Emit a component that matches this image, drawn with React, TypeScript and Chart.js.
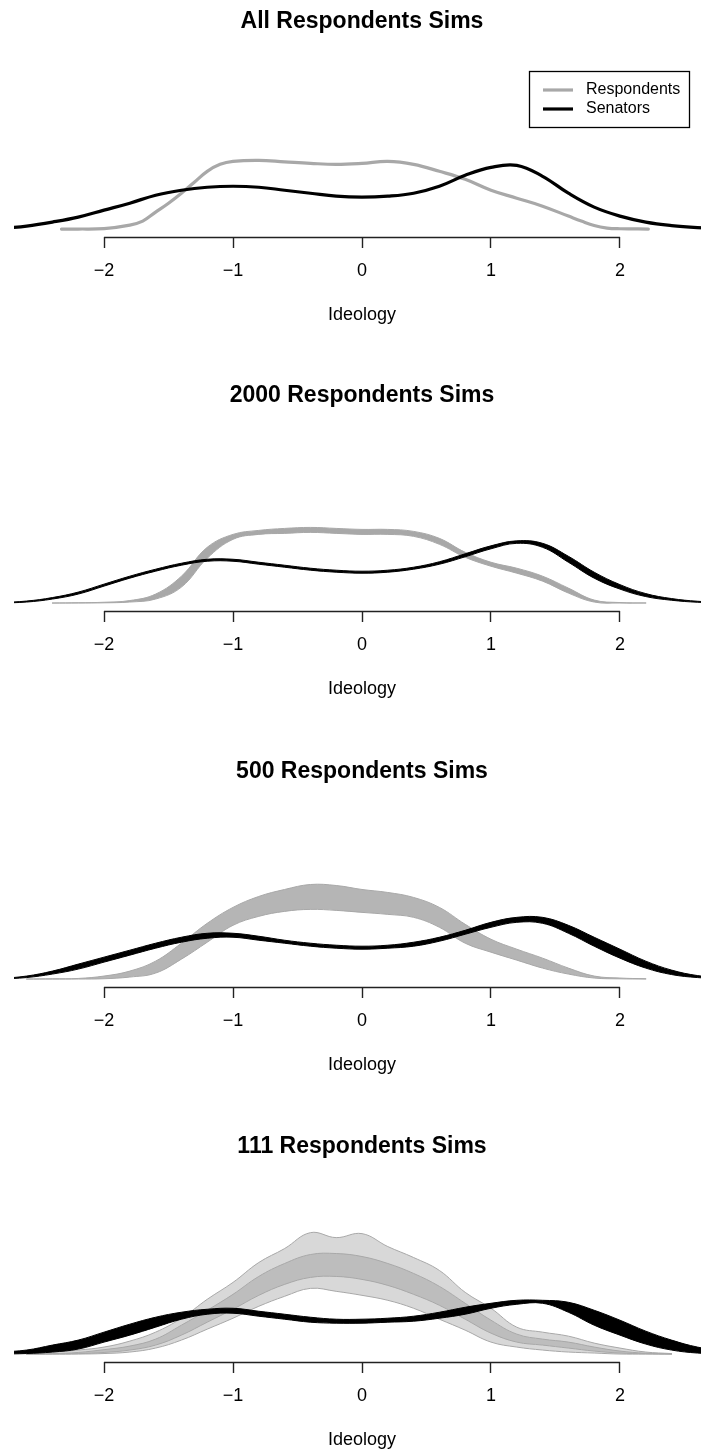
import { useEffect, useRef } from 'react';
import { Chart, registerables } from 'chart.js';

Chart.register(...registerables);

// ---------------- data (densities) ----------------
const X_TICKS = [-2, -1, 0, 1, 2];
const X_TICK_LABELS = ['\u22122', '\u22121', '0', '1', '2'];

const X_SEN = [-2.8, -2.6, -2.4, -2.2, -2.0, -1.8, -1.6, -1.4, -1.2, -1.0, -0.8, -0.6, -0.4, -0.2, 0, 0.2, 0.4, 0.6, 0.8, 1.0, 1.2, 1.4, 1.6, 1.8, 2.0, 2.2, 2.4, 2.6, 2.8];
const X_RESP_ALL = [-2.33, -2.2, -2.0, -1.8, -1.7, -1.6, -1.5, -1.4, -1.3, -1.2, -1.1, -1.0, -0.8, -0.6, -0.4, -0.2, 0, 0.2, 0.4, 0.6, 0.8, 1.0, 1.2, 1.4, 1.6, 1.7, 1.8, 1.9, 2.0, 2.22];
const X_RESP = [-2.6, -2.4, -2.2, -2.0, -1.8, -1.6, -1.4, -1.2, -1.0, -0.8, -0.6, -0.4, -0.2, 0, 0.2, 0.4, 0.6, 0.8, 1.0, 1.2, 1.4, 1.6, 1.8, 2.0, 2.2, 2.4];

// Panel 1: All respondents
const SEN_ALL = [0.0025, 0.015, 0.035, 0.06, 0.095, 0.13, 0.17, 0.195, 0.21, 0.215, 0.21, 0.195, 0.18, 0.165, 0.16, 0.165, 0.18, 0.215, 0.27, 0.31, 0.32, 0.265, 0.18, 0.11, 0.065, 0.035, 0.0175, 0.0075, 0.0025];
const RESP_ALL = [0, 0, 0.0025, 0.02, 0.04, 0.085, 0.13, 0.18, 0.235, 0.29, 0.325, 0.34, 0.345, 0.3375, 0.33, 0.325, 0.33, 0.34, 0.325, 0.29, 0.25, 0.195, 0.155, 0.115, 0.065, 0.04, 0.0175, 0.005, 0.0015, 0];

// Panel 2: 2000 respondents sims (envelopes of the simulated curves)
const SEN_2000_LO = [0, 0.005, 0.02, 0.045, 0.085, 0.125, 0.16, 0.19, 0.21, 0.21, 0.195, 0.18, 0.165, 0.155, 0.15, 0.155, 0.17, 0.195, 0.2325, 0.2725, 0.3, 0.28, 0.205, 0.125, 0.07, 0.0325, 0.014, 0.004, 0.0005];
const SEN_2000_HI = [0.0025, 0.01, 0.0275, 0.055, 0.095, 0.135, 0.17, 0.2, 0.22, 0.22, 0.205, 0.19, 0.175, 0.165, 0.16, 0.165, 0.18, 0.2075, 0.2475, 0.2875, 0.3125, 0.3, 0.235, 0.155, 0.0925, 0.0475, 0.0225, 0.009, 0.0025];
const RESP_2000_LO = [null, 0, 0, 0.001, 0.005, 0.02, 0.08, 0.225, 0.32, 0.345, 0.35, 0.355, 0.35, 0.345, 0.345, 0.335, 0.295, 0.23, 0.185, 0.15, 0.11, 0.05, 0.005, 0, 0, null];
const RESP_2000_HI = [null, 0, 0.0015, 0.004, 0.0125, 0.045, 0.135, 0.28, 0.345, 0.365, 0.375, 0.38, 0.375, 0.37, 0.37, 0.36, 0.325, 0.255, 0.205, 0.175, 0.135, 0.075, 0.015, 0.0025, 0.0005, null];

// Panel 3: 500 respondents sims
const SEN_500_LO = [0, 0.0075, 0.025, 0.05, 0.085, 0.12, 0.155, 0.185, 0.205, 0.21, 0.195, 0.18, 0.165, 0.155, 0.15, 0.155, 0.165, 0.19, 0.225, 0.26, 0.285, 0.28, 0.23, 0.165, 0.105, 0.055, 0.0225, 0.0075, 0.0015];
const SEN_500_HI = [0.0025, 0.015, 0.04, 0.075, 0.11, 0.145, 0.18, 0.21, 0.23, 0.23, 0.215, 0.195, 0.18, 0.17, 0.165, 0.17, 0.185, 0.21, 0.245, 0.285, 0.31, 0.31, 0.27, 0.21, 0.15, 0.09, 0.045, 0.0175, 0.005];
const RESP_500_LO = [0, 0, 0, 0.0015, 0.01, 0.03, 0.1, 0.185, 0.27, 0.315, 0.34, 0.35, 0.345, 0.335, 0.325, 0.31, 0.26, 0.18, 0.135, 0.095, 0.055, 0.025, 0.005, 0.001, 0, null];
const RESP_500_HI = [0, 0.001, 0.003, 0.015, 0.04, 0.09, 0.18, 0.28, 0.36, 0.415, 0.45, 0.475, 0.47, 0.45, 0.435, 0.41, 0.36, 0.275, 0.2, 0.15, 0.105, 0.055, 0.015, 0.005, 0.0015, null];

// Panel 4: 111 respondents sims
const SEN_111_LO = [0, 0.0025, 0.01, 0.025, 0.06, 0.095, 0.135, 0.175, 0.2, 0.205, 0.19, 0.175, 0.16, 0.155, 0.155, 0.16, 0.165, 0.18, 0.2, 0.23, 0.25, 0.255, 0.21, 0.145, 0.095, 0.05, 0.02, 0.005, 0];
const SEN_111_HI = [0.01, 0.02, 0.045, 0.07, 0.11, 0.15, 0.185, 0.21, 0.225, 0.23, 0.215, 0.2, 0.185, 0.175, 0.175, 0.18, 0.19, 0.21, 0.235, 0.255, 0.27, 0.27, 0.26, 0.22, 0.17, 0.115, 0.07, 0.035, 0.015];
const RESP_111_LO = [0, 0, 0, 0.0025, 0.01, 0.03, 0.07, 0.125, 0.18, 0.24, 0.29, 0.33, 0.315, 0.295, 0.27, 0.23, 0.175, 0.12, 0.06, 0.035, 0.02, 0.01, 0.005, 0, 0, 0];
const RESP_111_CORE_LO = [0, 0, 0.002, 0.008, 0.02, 0.045, 0.095, 0.16, 0.225, 0.295, 0.35, 0.385, 0.39, 0.375, 0.345, 0.3, 0.245, 0.175, 0.105, 0.06, 0.045, 0.03, 0.015, 0.005, 0.001, 0];
const RESP_111_CORE_HI = [0, 0.002, 0.008, 0.022, 0.04, 0.075, 0.145, 0.22, 0.3, 0.39, 0.455, 0.5, 0.505, 0.49, 0.455, 0.405, 0.34, 0.255, 0.17, 0.1, 0.075, 0.06, 0.035, 0.015, 0.004, 0];
const RESP_111_HI = [0.005, 0.01, 0.02, 0.035, 0.065, 0.11, 0.18, 0.275, 0.36, 0.46, 0.53, 0.61, 0.585, 0.605, 0.54, 0.485, 0.42, 0.31, 0.23, 0.135, 0.11, 0.09, 0.055, 0.03, 0.01, 0.0025];

const TITLES = ['All Respondents Sims', '2000 Respondents Sims', '500 Respondents Sims', '111 Respondents Sims'];
const SERIES_NAMES = ['Respondents', 'Senators'];

// ---------------- styling / layout ----------------
const FONT = "'Liberation Sans', Arial, Helvetica, sans-serif";
const GRAY = '#a8a8a8';
const BLACK = '#000000';
const CANVAS_W = 710;
const CANVAS_H = 350;
const PANEL_TOPS = [0, 374, 750, 1125];
const X_MIN = -2.698;
const X_MAX = 2.698;
const Y_MIN = -0.04;
const Y_MAX = 0.972;

type Pt = { x: number; y: number };
function pts(xs: number[], ys: (number | null)[]): Pt[] {
  const out: Pt[] = [];
  xs.forEach((x, i) => {
    const y = ys[i];
    if (y !== null && y !== undefined) out.push({ x, y });
  });
  return out;
}

const lineBase = {
  pointRadius: 0,
  pointHoverRadius: 0,
  tension: 0.4,
  borderCapStyle: 'round' as const,
  borderJoinStyle: 'round' as const,
};

function band(label: string, xs: number[], lo: (number | null)[], hi: (number | null)[], color: string, fillColor: string, orderBase: number) {
  return [
    { ...lineBase, label, data: pts(xs, lo), borderColor: color, borderWidth: 1, fill: false, order: orderBase + 1 },
    { ...lineBase, label, data: pts(xs, hi), borderColor: color, borderWidth: 1, fill: '-1', backgroundColor: fillColor, order: orderBase },
  ];
}

function panelDatasets(i: number): any[] {
  if (i === 0) {
    return [
      { ...lineBase, label: SERIES_NAMES[0], data: pts(X_RESP_ALL, RESP_ALL), borderColor: GRAY, borderWidth: 3.2, fill: false, order: 2 },
      { ...lineBase, label: SERIES_NAMES[1], data: pts(X_SEN, SEN_ALL), borderColor: BLACK, borderWidth: 3.2, fill: false, order: 1 },
    ];
  }
  if (i === 1) {
    return [
      ...band(SERIES_NAMES[0], X_RESP, RESP_2000_LO, RESP_2000_HI, GRAY, GRAY, 5),
      ...band(SERIES_NAMES[1], X_SEN, SEN_2000_LO, SEN_2000_HI, BLACK, BLACK, 1),
    ];
  }
  if (i === 2) {
    return [
      ...band(SERIES_NAMES[0], X_RESP, RESP_500_LO, RESP_500_HI, GRAY, 'rgba(168,168,168,0.85)', 5),
      ...band(SERIES_NAMES[1], X_SEN, SEN_500_LO, SEN_500_HI, BLACK, BLACK, 1),
    ];
  }
  return [
    ...band(SERIES_NAMES[0], X_RESP, RESP_111_LO, RESP_111_HI, GRAY, 'rgba(168,168,168,0.45)', 7),
    ...band(SERIES_NAMES[0], X_RESP, RESP_111_CORE_LO, RESP_111_CORE_HI, GRAY, 'rgba(168,168,168,0.55)', 4),
    ...band(SERIES_NAMES[1], X_SEN, SEN_111_LO, SEN_111_HI, BLACK, BLACK, 1),
  ];
}

// R-style axis line spanning only the tick range
const axisLinePlugin = {
  id: 'axisLine',
  afterDraw(chart: any) {
    const xs = chart.scales.x;
    const y = Math.round(chart.chartArea.bottom) + 0.5;
    const ctx = chart.ctx;
    ctx.save();
    ctx.strokeStyle = '#222';
    ctx.lineWidth = 1.4;
    ctx.beginPath();
    ctx.moveTo(xs.getPixelForValue(X_TICKS[0]), y);
    ctx.lineTo(xs.getPixelForValue(X_TICKS[X_TICKS.length - 1]), y);
    ctx.stroke();
    ctx.restore();
  },
};

// Boxed legend (R style) for the first panel
const boxedLegendPlugin = {
  id: 'boxedLegend',
  afterDraw(chart: any, _args: any, opts: any) {
    if (!opts || !opts.show) return;
    const ctx = chart.ctx;
    const { left, top, width, height, line0, line1, textX, rows } = opts;
    ctx.save();
    ctx.strokeStyle = '#000';
    ctx.lineWidth = 1.3;
    ctx.strokeRect(left + 0.5, top + 0.5, width, height);
    const items = chart.data.datasets;
    items.forEach((ds: any, k: number) => {
      const y = rows[k];
      ctx.strokeStyle = ds.borderColor;
      ctx.lineWidth = 3.2;
      ctx.lineCap = 'butt';
      ctx.beginPath();
      ctx.moveTo(line0, y);
      ctx.lineTo(line1, y);
      ctx.stroke();
      ctx.fillStyle = '#000';
      ctx.font = `16px ${FONT}`;
      ctx.textBaseline = 'middle';
      ctx.textAlign = 'left';
      ctx.fillText(ds.label, textX, y);
    });
    ctx.restore();
  },
};

function Panel({ index, top }: { index: number; top: number }) {
  const ref = useRef<HTMLCanvasElement | null>(null);
  useEffect(() => {
    if (!ref.current) return;
    const chart = new Chart(ref.current, {
      type: 'line',
      data: { datasets: panelDatasets(index) },
      plugins: [axisLinePlugin, boxedLegendPlugin],
      options: {
        animation: false,
        responsive: false,
        maintainAspectRatio: false,
        events: [],
        layout: { padding: { left: 14, right: 0, top: 0, bottom: 0 } },
        plugins: {
          legend: { display: false },
          tooltip: { enabled: false },
          title: {
            display: true,
            text: TITLES[index],
            fullSize: false,
            color: '#000',
            font: { family: FONT, size: 23, weight: 'bold' },
            padding: { top: 8, bottom: 0 },
          },
          boxedLegend: {
            show: index === 0,
            left: 529,
            top: 71,
            width: 160,
            height: 56,
            line0: 543,
            line1: 573,
            textX: 586,
            rows: [90, 109],
          },
        } as any,
        scales: {
          x: {
            type: 'linear',
            min: X_MIN,
            max: X_MAX,
            afterBuildTicks: (axis: any) => {
              axis.ticks = X_TICKS.map((v) => ({ value: v }));
            },
            afterFit: (axis: any) => {
              axis.height = 113;
            },
            ticks: {
              autoSkip: false,
              maxRotation: 0,
              padding: 12,
              color: '#000',
              font: { family: FONT, size: 18 },
              callback: (_v: any, i: number) => X_TICK_LABELS[i],
            },
            grid: {
              drawOnChartArea: false,
              drawTicks: true,
              tickLength: 11,
              tickColor: '#222',
              tickWidth: 1.4,
            },
            border: { display: false },
            title: {
              display: true,
              text: 'Ideology',
              color: '#000',
              font: { family: FONT, size: 18 },
              padding: { top: 0, bottom: 24 },
            },
          },
          y: {
            type: 'linear',
            display: false,
            min: Y_MIN,
            max: Y_MAX,
          },
        },
      } as any,
    });
    return () => chart.destroy();
  }, [index]);
  return (
    <canvas
      ref={ref}
      width={CANVAS_W}
      height={CANVAS_H}
      style={{ position: 'absolute', left: 0, top, width: CANVAS_W, height: CANVAS_H }}
    />
  );
}

export default function App() {
  return (
    <div
      style={{
        position: 'absolute',
        left: 0,
        top: 0,
        width: 701,
        height: 1450,
        overflow: 'hidden',
        background: '#ffffff',
      }}
    >
      {TITLES.map((_, i) => (
        <Panel key={i} index={i} top={PANEL_TOPS[i]} />
      ))}
    </div>
  );
}
